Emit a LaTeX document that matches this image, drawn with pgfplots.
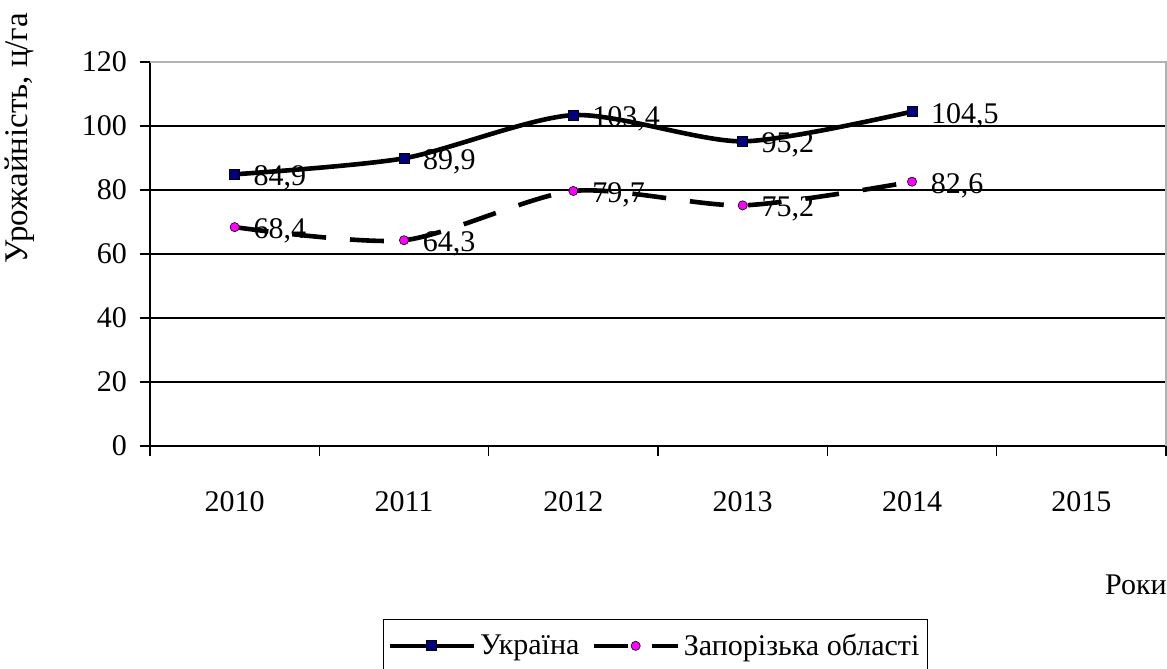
\documentclass[border=0pt]{standalone}
\usepackage{pgfplots}
\pgfplotsset{compat=1.18}
\usepackage{fontspec}
\setmainfont{Liberation Serif}
\definecolor{navyc}{HTML}{000080}
\definecolor{magc}{HTML}{FF00FF}
\begin{document}
\begin{tikzpicture}
\begin{axis}[
  at={(0,0)}, anchor=south west,
  scale only axis, width=508pt, height=192pt,
  xmin=-0.5, xmax=5.5, ymin=0, ymax=120,
  axis x line=bottom, axis y line=left,
  axis line style={-, black, line width=0.8pt},
  xtick={-0.5,0.5,...,5.5},
  xticklabels={2010,2011,2012,2013,2014,2015},
  x tick label as interval,
  ytick={0,20,...,120},
  tick align=outside, major tick length=5pt,
  tick style={black, line width=0.8pt},
  ymajorgrids, grid style={black, line width=0.7pt},
  tick label style={font=\fontsize{15}{17}\selectfont},
  /pgf/number format/assume math mode=true,
  xticklabel style={yshift=-14pt},
  yticklabel style={xshift=-3pt},
  clip=false,
  legend style={at={(0.4975,-0.4505)}, anchor=north, legend columns=2,
    draw=black, line width=0.6pt, font=\fontsize{15}{17}\selectfont,
    inner xsep=2pt, inner ysep=5pt,
    /tikz/every even column/.append style={column sep=4pt}},
  legend image code/.code={\draw[mark repeat=2,mark phase=2,#1] plot coordinates {(0pt,0pt) (21pt,0pt) (42pt,0pt)};},
  nodes near coords={\pgfmathprintnumber[fixed,precision=1,use comma,fixed zerofill]{\pgfplotspointmeta}},
  every node near coord/.append style={anchor=west, font=\fontsize{15}{17}\selectfont, xshift=6pt, yshift=-2pt, text=black},
]
\addplot[black, line width=2.3pt, smooth, tension=0.45, mark=square*,
  mark options={solid, fill=navyc, draw=black, line width=0.4pt}, mark size=2.5pt]
  coordinates {(0,84.9) (1,89.9) (2,103.4) (3,95.2) (4,104.5)};
\addlegendentry{Україна}
\addplot[black, line width=2.3pt, smooth, tension=0.45, dash pattern=on 17pt off 12pt,
  mark=*, mark options={solid, fill=magc, draw=black, line width=0.3pt}, mark size=2.3pt]
  coordinates {(0,68.4) (1,64.3) (2,79.7) (3,75.2) (4,82.6)};
\addlegendentry{Запорізька області}
\end{axis}
\draw[gray!60, line width=0.8pt] (0,192pt) -- (508pt,192pt) -- (508pt,0);
\node[rotate=90, font=\fontsize{16.5}{18}\selectfont] at (-65pt,154pt) {Урожайність, ц/га};
\node[anchor=east, font=\fontsize{15}{17}\selectfont, inner sep=0pt] at (508.5pt,-69.5pt) {Роки};
\pgfresetboundingbox
\path (-75pt,-111.5pt) rectangle (508.5pt,223pt);
\end{tikzpicture}
\end{document}
